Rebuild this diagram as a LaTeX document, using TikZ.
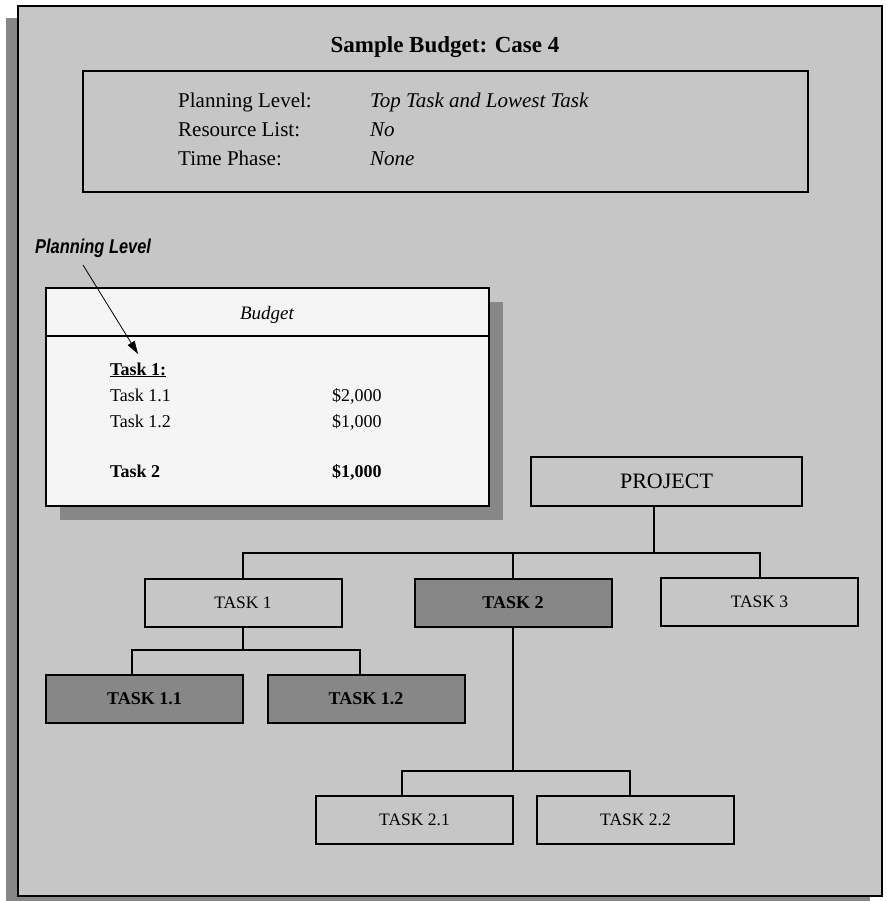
\documentclass[tikz,border=0pt]{standalone}
\usepackage{fontspec}
\setmainfont{Liberation Serif}
\newfontfamily\calloutfont[FakeStretch=0.82]{Liberation Sans}
\usetikzlibrary{arrows.meta}
\definecolor{panel}{HTML}{C6C6C6}
\definecolor{dropgray}{HTML}{878787}
\definecolor{sheet}{HTML}{F5F5F5}
\begin{document}
\begin{tikzpicture}[x=1pt,y=-1pt,
  txt/.style={inner sep=0pt, anchor=base west, font=\fontsize{21}{25}\selectfont},
  btxt/.style={inner sep=0pt, anchor=base west, font=\fontsize{18}{22}\selectfont},
  taskbox/.style={draw, line width=2pt, fill=panel, inner sep=0pt,
    minimum width=197pt, minimum height=48pt, font=\fontsize{17.5}{21}\selectfont},
  keybox/.style={taskbox, fill=dropgray, font=\fontsize{18}{21}\selectfont\bfseries},
  wire/.style={line width=2pt},
  pointer/.style={line width=0.8pt, -{Triangle[length=13pt,width=8pt]}}]

\path[use as bounding box] (0,0) rectangle (886,901);

% page panel with its drop shadow
\fill[dropgray] (6,18) rectangle (870,908);
\draw[fill=panel, line width=2pt] (18,6) rectangle (882,896);

% title and settings box
\node[inner sep=0pt, anchor=base, font=\fontsize{23}{27}\selectfont\bfseries] (title) at (445,53) {Sample Budget: Case 4};
\draw[line width=2pt] (83,71) rectangle (808,192);
\node[txt] (k1) at (178,108) {Planning Level:};
\node[txt] (k2) at (178,137) {Resource List:};
\node[txt] (k3) at (178,166) {Time Phase:};
\node[txt, font=\fontsize{21}{25}\selectfont\itshape] (v1) at (370,108) {Top Task and Lowest Task};
\node[txt, font=\fontsize{21}{25}\selectfont\itshape] (v2) at (370,137) {No};
\node[txt, font=\fontsize{21}{25}\selectfont\itshape] (v3) at (370,166) {None};

% budget sheet with its drop shadow
\fill[dropgray] (60,302) rectangle (503,520);
\draw[fill=sheet, line width=2pt] (46,288) rectangle (489,506);
\draw[line width=2pt] (46,336) -- (489,336);
\node[inner sep=0pt, anchor=base, font=\fontsize{19}{22}\selectfont\itshape] (bhead) at (267,319) {Budget};
\node[btxt, font=\fontsize{18}{22}\selectfont\bfseries] (bt1) at (110,375) {\underline{Task 1:}};
\node[btxt] (bt11) at (110,401) {Task 1.1};
\node[btxt] (bt12) at (110,427) {Task 1.2};
\node[btxt, font=\fontsize{18}{22}\selectfont\bfseries] (bt2) at (110,477) {Task 2};
\node[btxt] (ba11) at (332,401) {\$2,000};
\node[btxt] (ba12) at (332,427) {\$1,000};
\node[btxt, font=\fontsize{18}{22}\selectfont\bfseries] (ba2) at (332,477) {\$1,000};

% callout
\node[inner sep=0pt, anchor=base west, font=\fontsize{20}{24}\calloutfont\bfseries\itshape] (pl) at (35,253) {Planning Level};
\coordinate (plTail) at (83,265);
\coordinate (plTip) at (138,354);
\draw[pointer] (plTail) -- (plTip);

% work breakdown structure
\node[taskbox, minimum width=271pt, minimum height=49pt, font=\fontsize{22}{26}\selectfont] (project) at (666.5,481.5) {PROJECT};
\node[taskbox] (task1) at (243,602.5) {TASK 1};
\node[keybox] (task2) at (513,602.5) {TASK 2};
\node[taskbox] (task3) at (759.5,602) {TASK 3};
\node[keybox] (task11) at (144.5,698.5) {TASK 1.1};
\node[keybox] (task12) at (366,698.5) {TASK 1.2};
\node[taskbox] (task21) at (414.5,819.5) {TASK 2.1};
\node[taskbox] (task22) at (635.5,819.5) {TASK 2.2};

\coordinate (busA) at (654,553);
\coordinate (busBl) at (132,650);
\coordinate (busBr) at (360,650);
\coordinate (busCl) at (402,771);
\coordinate (busCr) at (630,771);

\draw[wire] (busA |- project.south) -- (busA);
\draw[wire] (task1.north) |- (busA) -| (task3.north);
\draw[wire] (task2.north) -- (task2.north |- busA);
\draw[wire] (task1.south) -- (task1.south |- busBl);
\draw[wire] (busBl |- task11.north) -- (busBl) -- (busBr) -- (busBr |- task12.north);
\draw[wire] (task2.south) -- (task2.south |- busCl);
\draw[wire] (busCl |- task21.north) -- (busCl) -- (busCr) -- (busCr |- task22.north);
\end{tikzpicture}
\end{document}
